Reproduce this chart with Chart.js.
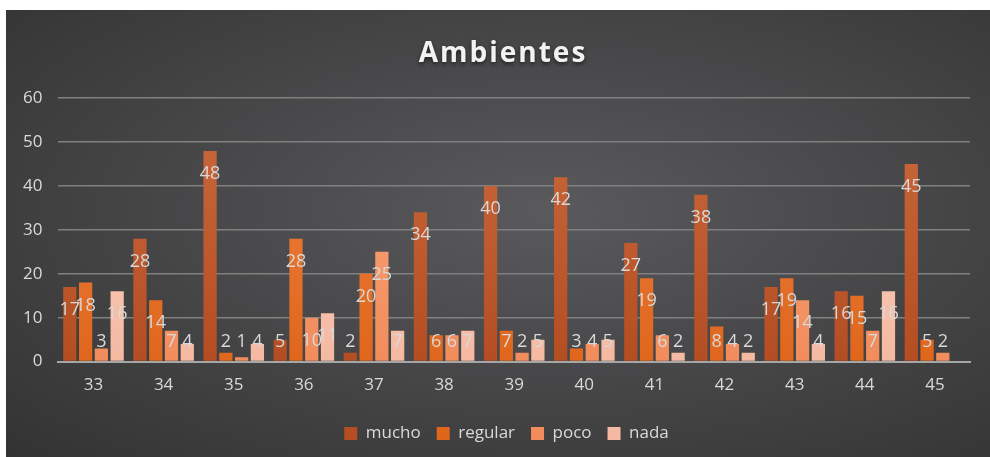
<!DOCTYPE html>
<html>
<head>
<meta charset="utf-8">
<script src="https://cdn.jsdelivr.net/npm/chart.js@4/dist/chart.umd.min.js"></script>
<style>
  body { margin: 0; background: #fff; }
  #wrap {
    position: absolute; left: 6px; top: 10px; width: 984px; height: 447px;
    background: radial-gradient(ellipse at 55% 45%, #5a5a5c 0%, #4a4a4c 40%, #333333 100%);
  }
</style>
</head>
<body>
<div id="wrap"><canvas id="myChart" width="984" height="447"></canvas></div>
<script>
const categories = ['33', '34', '35', '36', '37', '38', '39', '40', '41', '42', '43', '44', '45'];
const mucho   = [17, 28, 48, 5, 2, 34, 40, 42, 27, 38, 17, 16, 45];
const regular = [18, 14, 2, 28, 20, 6, 7, 3, 19, 8, 19, 15, 5];
const poco    = [3, 7, 1, 10, 25, 6, 2, 4, 6, 4, 14, 7, 2];
const nada    = [16, 4, 4, 11, 7, 7, 5, 5, 2, 2, 4, 16, null];
const chartTitle = 'Ambientes';

// vertical gradient for each bar colour
function barFill(top, bottom) {
    return (ctx) => {
        const area = ctx.chart.chartArea
        if (!area) return bottom
        const g = ctx.chart.ctx.createLinearGradient(0, area.top, 0, area.bottom)
        g.addColorStop(0, top)
        g.addColorStop(1, bottom)
        return g
    }
}

// labels inside the top of each bar, pushed up when the bar is too short
const barLabels = {
    id: 'barLabels',
    afterDatasetsDraw(chart) {
        const c = chart.ctx
        const base = chart.scales.y.getPixelForValue(0)
        c.save()
        c.font = '18px "Open Sans", sans-serif'
        c.fillStyle = '#d9d9d9'
        c.textAlign = 'center'
        c.textBaseline = 'middle'
        chart.data.datasets.forEach((ds, i) => {
            chart.getDatasetMeta(i).data.forEach((bar, j) => {
                if (ds.data[j] == null) return
                const y = Math.min(bar.y + 23, base - 20)
                c.fillText(ds.data[j], bar.x, y)
            })
        })
        c.restore()
    }
}

// spaced-out title with a soft shadow (the built-in title only reserves the room)
const spacedTitle = {
    id: 'spacedTitle',
    afterDraw(chart) {
        const box = chart.titleBlock
        const c = chart.ctx
        c.save()
        c.font = 'bold 28px "Open Sans", sans-serif'
        c.letterSpacing = '2px'
        c.textAlign = 'center'
        c.textBaseline = 'middle'
        c.shadowColor = 'rgba(0,0,0,0.6)'
        c.shadowBlur = 4
        c.shadowOffsetY = 2
        c.fillStyle = '#f2f2f2'
        c.fillText(chartTitle, 497, box.top + box.height / 2 - 6)
        c.restore()
    }
}

// nudge the legend a bit right and down, like the original
const legendShift = {
    id: 'legendShift',
    afterLayout(chart) {
        chart.legend.left += 18
        chart.legend.right += 18
        chart.legend.top += 9
        chart.legend.bottom += 9
    }
}

const ctx = document.getElementById('myChart').getContext('2d');
const chart = new Chart(ctx, {
    type: 'bar',
    data: {
        labels: categories,
        datasets: [
            { label: 'mucho', data: mucho, backgroundColor: barFill('#cb6b3d', '#b44d22') },
            { label: 'regular', data: regular, backgroundColor: barFill('#ee8444', '#e0661c') },
            { label: 'poco', data: poco, backgroundColor: barFill('#f8a880', '#f28c5c') },
            { label: 'nada', data: nada, backgroundColor: barFill('#fbd6c8', '#f5b9a1') }
        ]
    },
    options: {
        responsive: false,
        animation: false,
        layout: { padding: { left: 1, right: 20, top: 11, bottom: 14 } },
        datasets: { bar: { categoryPercentage: 0.9, barPercentage: 0.84 } },
        scales: {
            x: {
                grid: { display: false },
                border: { color: '#a6a6a6', width: 2 },
                ticks: { color: '#d9d9d9', font: { size: 17, family: '"Open Sans", sans-serif' }, padding: 5 }
            },
            y: {
                min: 0, max: 60,
                ticks: { stepSize: 10, color: '#d9d9d9', font: { size: 17, family: '"Open Sans", sans-serif' }, padding: 16 },
                grid: { color: '#808080', lineWidth: 1.5, drawTicks: false },
                border: { display: false }
            }
        },
        plugins: {
            title: {
                display: true,
                text: chartTitle,
                color: 'rgba(0,0,0,0)',
                font: { size: 26, weight: 'bold', family: '"Open Sans", sans-serif' },
                padding: { top: 20, bottom: 26 }
            },
            legend: {
                position: 'bottom',
                labels: {
                    color: '#d9d9d9',
                    font: { size: 17, family: '"Open Sans", sans-serif' },
                    boxWidth: 13, boxHeight: 13, padding: 16
                }
            },
            tooltip: { enabled: false }
        }
    },
    plugins: [barLabels, spacedTitle, legendShift]
});
</script>
</body>
</html>
